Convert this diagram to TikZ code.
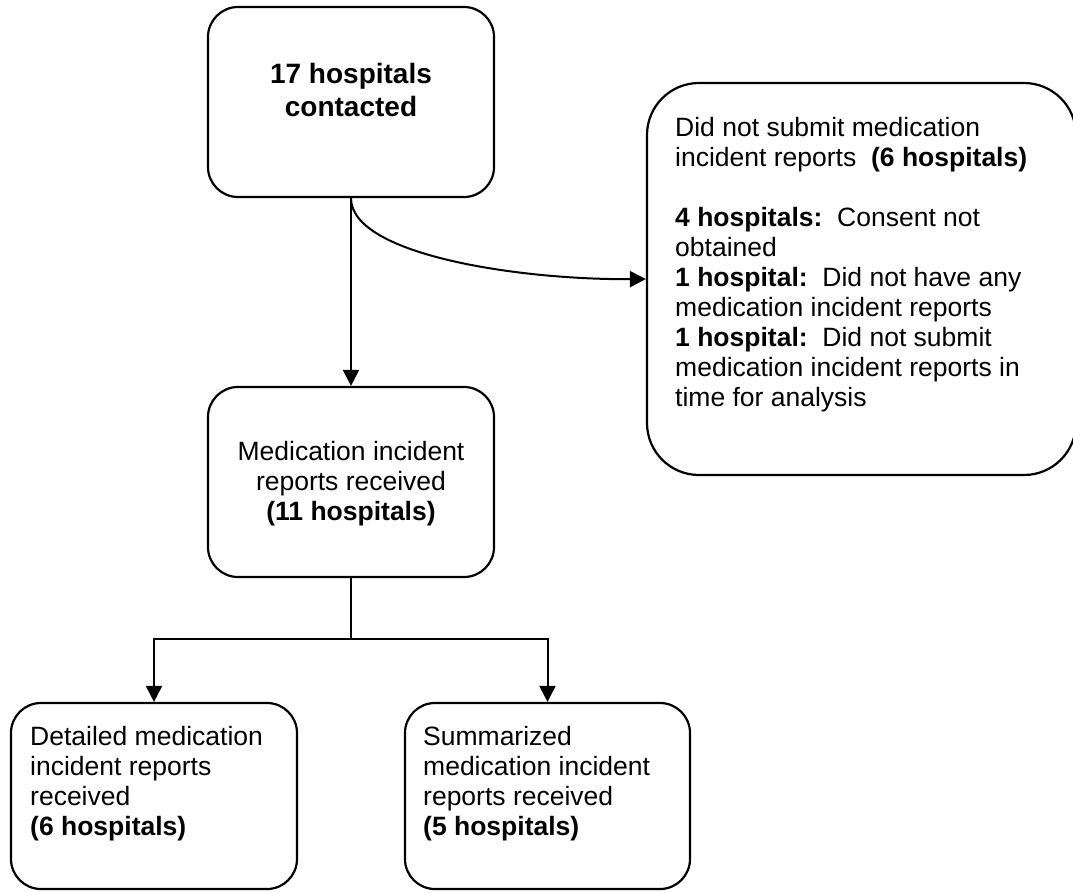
\documentclass[tikz,border=0pt]{standalone}
\usepackage{fontspec}
\setmainfont{Liberation Sans}
\usetikzlibrary{arrows.meta}
\begin{document}
\begin{tikzpicture}[x=1pt,y=-1pt,
  box/.style={draw,line width=2.2pt,rounded corners=30pt,inner sep=0pt},
  txt/.style={inner sep=0pt,font=\fontsize{26.5}{30}\selectfont},
  arr/.style={line width=2pt,-{Triangle[length=16pt,width=16pt]}},
  conn/.style={line width=2pt}]
\useasboundingbox (0,0) rectangle (1073,892);
% boxes
\node[box,minimum width=286pt,minimum height=190pt] (top) at (351,102) {};
\node[box,minimum width=286pt,minimum height=190pt] (mid) at (351,482) {};
\node[box,rounded corners=52pt,minimum width=429pt,minimum height=392pt] (rb) at (861.5,279) {};
\node[box,minimum width=286pt,minimum height=186pt] (bl) at (154,796) {};
\node[box,minimum width=285pt,minimum height=186pt] (br) at (547.5,796) {};
% texts
\node[inner sep=0pt,anchor=north,align=center,font=\fontsize{28}{33}\selectfont\bfseries] (ttop) at (351,62.6) {17 hospitals\\contacted};
\node[txt,anchor=north,align=center] (tmid) at (351,441) {Medication incident\\reports received\\\textbf{(11 hospitals)}};
\node[txt,anchor=north west,align=left] (trb) at (675,117) {Did not submit medication\\incident reports\ \ \textbf{(6 hospitals)}\\[30pt]\textbf{4 hospitals:}\ \ Consent not\\obtained\\\textbf{1 hospital:}\ \ Did not have any\\medication incident reports\\\textbf{1 hospital:}\ \ Did not submit\\medication incident reports in\\time for analysis};
\node[txt,anchor=north west,align=left] (tbl) at (30,726) {Detailed medication\\incident reports\\received\\\textbf{(6 hospitals)}};
\node[txt,anchor=north west,align=left] (tbr) at (423,726) {Summarized\\medication incident\\reports received\\\textbf{(5 hospitals)}};
% connectors
\draw[arr] (top.south) -- (mid.north);
\draw[arr] (top.south) .. controls (351,255) and (520,280) .. (rb.west);
\coordinate (split) at (351,639);
\draw[conn] (mid.south) -- (split);
\draw[arr] (split) -| (bl.north);
\draw[arr] (split) -| (br.north);
\end{tikzpicture}
\end{document}
